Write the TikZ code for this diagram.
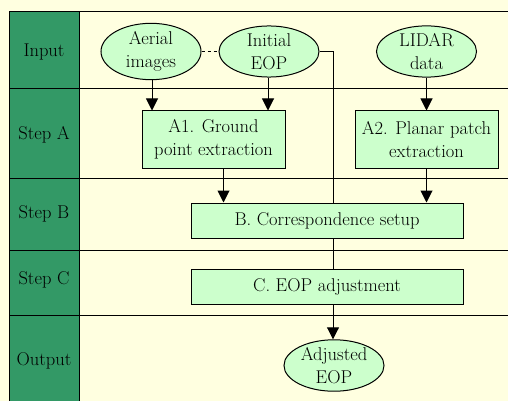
\documentclass[tikz,border=0pt]{standalone}
\usepackage{fontspec}
\usetikzlibrary{arrows.meta,shapes.geometric}
\definecolor{paper}{HTML}{FFFFE0}
\definecolor{lane}{HTML}{339966}
\definecolor{boxfill}{HTML}{CCFFCC}
\begin{document}
\begin{tikzpicture}[x=1pt,y=-1pt,
  every node/.style={font=\fontsize{18.5}{23}\selectfont, align=center},
  datum/.style={ellipse, draw=black, line width=1pt, fill=boxfill,
    minimum width=100pt, minimum height=51pt, inner sep=0pt},
  proc/.style={rectangle, draw=black, line width=1pt, fill=boxfill,
    minimum height=57pt, inner sep=0pt},
  wide/.style={proc, minimum width=272pt, minimum height=35pt},
  lanelbl/.style={inner sep=0pt},
  arr/.style={line width=1pt, -{Triangle[width=12pt,length=12pt]}},
  link/.style={line width=1pt}]
\useasboundingbox (0,0) rectangle (508,401);
\fill[paper] (0,0) rectangle (508,401);
% swimlane header column
\fill[lane] (9,12) rectangle (79,401);
\draw[line width=1pt] (9,401) -- (9,12) -- (508,12);
\draw[line width=1pt] (79,12) -- (79,401);
% lane separators
\foreach \yy in {89,178,250,315}
  \draw[line width=1pt] (9,\yy) -- (508,\yy);
% lane labels
\node[lanelbl] (lin) at (44,52) {Input};
\node[lanelbl] (lsa) at (44,135) {Step A};
\node[lanelbl] (lsb) at (44,214) {Step B};
\node[lanelbl] (lsc) at (44,280) {Step C};
\node[lanelbl] (lout) at (44,361) {Output};
% inputs
\node[datum] (aer) at (151,51.5) {Aerial\\images};
\node[datum] (ini) at (269,51.5) {Initial\\EOP};
\node[datum] (lid) at (426.5,51.5) {LIDAR\\data};
% step A
\node[proc, minimum width=143pt] (a1) at (213.5,139.5) {A1. Ground\\point extraction};
\node[proc, minimum width=143pt] (a2) at (426.5,139.5) {A2. Planar patch\\extraction};
% steps B and C
\node[wide] (b) at (327,220.5) {B. Correspondence setup};
\node[wide] (c) at (327,287) {C. EOP adjustment};
% output
\node[datum] (adj) at (334,365.5) {Adjusted\\EOP};
% connectors
\draw[link, dashed] (aer) -- (ini);
\draw[arr] ([xshift=1pt]aer.south) -- ([xshift=1pt]aer.south |- a1.north);
\draw[arr] ([xshift=-1pt]ini.south) -- ([xshift=-1pt]ini.south |- a1.north);
\draw[arr] (lid.south) -- (lid.south |- a2.north);
\draw[arr] ([xshift=10pt]a1.south) -- ([xshift=10pt]a1.south |- b.north);
\draw[arr] (a2.south) -- (a2.south |- b.north);
\draw[link] (ini.east) -| ([xshift=6pt]b.north);
\draw[link] ([xshift=6pt]b.south) -- ([xshift=6pt]c.north);
\draw[arr] ([xshift=6pt]c.south) -- ([xshift=6pt]c.south |- adj.north);
\end{tikzpicture}
\end{document}
